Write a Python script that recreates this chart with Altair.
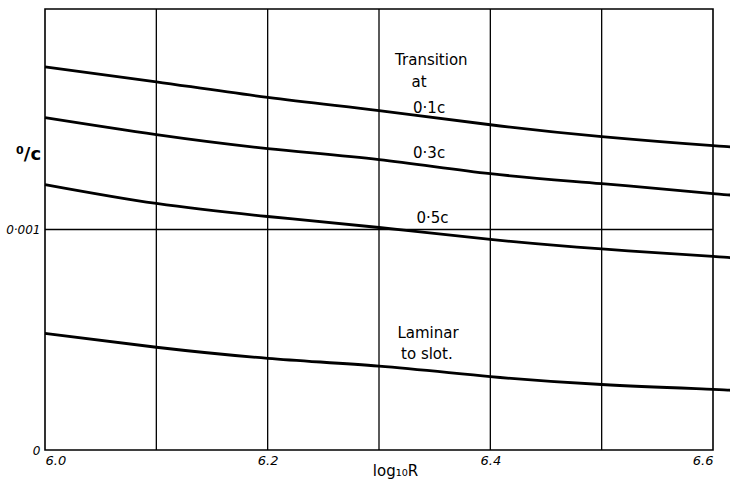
import altair as alt
import pandas as pd

# log10 R stations at which each curve was read
log_r = [6.0, 6.1, 6.2, 6.3, 6.4, 6.5, 6.6, 6.615]

# theta/c values, per transition position
trans_01c = [0.001738, 0.001670, 0.001599, 0.001539, 0.001475, 0.001421, 0.001380, 0.001376]
trans_03c = [0.001507, 0.001430, 0.001367, 0.001317, 0.001253, 0.001208, 0.001163, 0.001158]
trans_05c = [0.001204, 0.001118, 0.001059, 0.001009, 0.000955, 0.000912, 0.000878, 0.000872]
laminar = [0.000529, 0.000466, 0.000416, 0.000380, 0.000333, 0.000297, 0.000275, 0.000270]

series_names = ["0.1c", "0.3c", "0.5c", "laminar"]
series_values = [trans_01c, trans_03c, trans_05c, laminar]

rows = []
for name, vals in zip(series_names, series_values):
    for x, v in zip(log_r, vals):
        rows.append({"logR": x, "theta": v, "series": name})
curves = pd.DataFrame(rows)

# curve labels
label_text = ["Transition", "at", "0·1c", "0·3c", "0·5c", "Laminar", "to slot."]
label_x = [6.347, 6.336, 6.345, 6.345, 6.348, 6.344, 6.343]
label_y = [0.001768, 0.001668, 0.001552, 0.001348, 0.001050, 0.000532, 0.000437]
labels = pd.DataFrame({"text": label_text, "logR": label_x, "theta": label_y})

x_ticks = [6.0, 6.2, 6.4, 6.6]
x_grid = [6.1, 6.2, 6.3, 6.4, 6.5]
y_ticks = [0, 0.001]

FONT = "DejaVu Sans"

x_scale = alt.Scale(domain=[6.0, 6.6], nice=False, zero=False)
y_scale = alt.Scale(domain=[0, 0.002], nice=False)

lines = alt.Chart(curves).mark_line(
    color="black", strokeWidth=2.8, clip=False, interpolate="natural"
).encode(
    x=alt.X(
        "logR:Q",
        scale=x_scale,
        axis=alt.Axis(
            values=x_ticks,
            format=".1f",
            grid=False,
            ticks=False,
            domain=False,
            labelFont=FONT,
            labelFontStyle="italic",
            labelFontSize=13,
            labelColor="black",
            labelPadding=4,
            title="log₁₀R",
            titleFont=FONT,
            titleFontWeight="normal",
            titleFontSize=15,
            titleColor="black",
            titleX=350,
            titleY=20,
            titleBaseline="middle",
            titleAlign="center",
        ),
    ),
    y=alt.Y(
        "theta:Q",
        scale=y_scale,
        axis=alt.Axis(
            values=y_ticks,
            labelExpr="datum.value == 0 ? '0' : '0·001'",
            grid=False,
            ticks=False,
            domain=False,
            labelFont=FONT,
            labelFontStyle="italic",
            labelFontSize=12,
            labelColor="black",
            labelPadding=5,
            title="⁰/c",
            titleFont=FONT,
            titleFontWeight="bold",
            titleFontSize=18,
            titleColor="black",
            titleAngle=0,
            titleX=-17,
            titleY=145,
            titleAlign="center",
            titleBaseline="middle",
        ),
    ),
    detail="series:N",
)

vgrid = alt.Chart(pd.DataFrame({"logR": x_grid})).mark_rule(
    color="black", strokeWidth=1.3
).encode(x=alt.X("logR:Q", scale=x_scale))

hgrid = alt.Chart(pd.DataFrame({"theta": [0.001]})).mark_rule(
    color="black", strokeWidth=1.3
).encode(y=alt.Y("theta:Q", scale=y_scale))

text = alt.Chart(labels).mark_text(
    font=FONT, fontSize=15, color="black", align="center", baseline="middle"
).encode(
    x=alt.X("logR:Q", scale=x_scale),
    y=alt.Y("theta:Q", scale=y_scale),
    text="text:N",
)

chart = (
    alt.layer(vgrid, hgrid, lines, text)
    .properties(
        width=668,
        height=441,
        padding={"left": 45, "top": 9, "right": 17, "bottom": 36},
        autosize=alt.AutoSizeParams(type="none"),
        background="white",
    )
    .configure_view(stroke="black", strokeWidth=1.6)
)

chart.save("out.html", embed_options={"renderer": "svg", "actions": False})
